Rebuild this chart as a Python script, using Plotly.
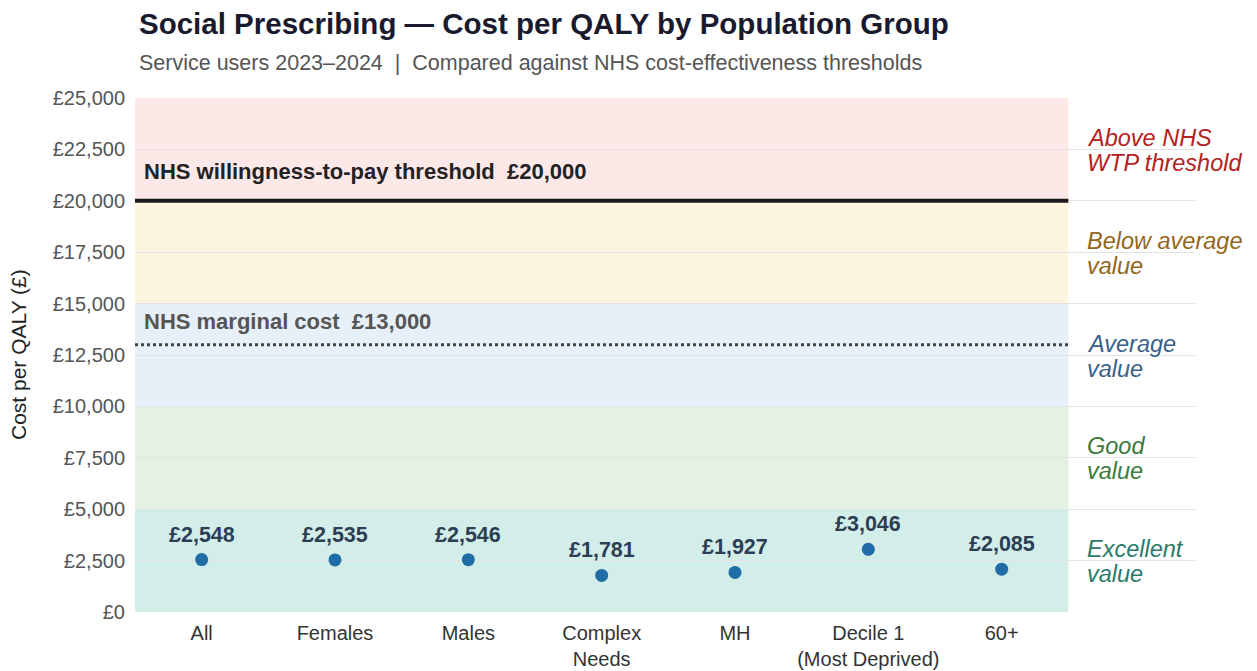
import plotly.graph_objects as go

categories = ["All", "Females", "Males", "Complex<br>Needs", "MH", "Decile 1<br>(Most Deprived)", "60+"]
cost_per_qaly = [2548, 2535, 2546, 1781, 1927, 3046, 2085]

band_edges = [0, 5000, 10000, 15000, 20000, 25000]
band_labels = ["Excellent<br>value", "Good<br>value", "Average<br>value", "Below average<br>value", "Above NHS<br>WTP threshold"]

wtp_threshold = 20000
marginal_cost = 13000
y_ticks = [0, 2500, 5000, 7500, 10000, 12500, 15000, 17500, 20000, 22500, 25000]

# styles
band_fills = ["rgba(192,231,222,0.7)", "rgba(215,236,215,0.7)", "rgba(221,234,245,0.7)",
              "rgba(252,241,211,0.7)", "rgba(252,222,222,0.7)"]
band_label_colors = ["#2a7a6a", "#3c7a3c", "#3a5f8a", "#94661a", "#b22222"]
FONT = "Liberation Sans, Arial, sans-serif"

n = len(categories)
xs = list(range(n))

fig = go.Figure()

fig.add_trace(go.Scatter(
    x=xs, y=cost_per_qaly, mode="markers",
    marker=dict(size=13, color="#1f6ca6"),
    showlegend=False, hoverinfo="skip", cliponaxis=False,
))

for xi, v in zip(xs, cost_per_qaly):
    fig.add_annotation(x=xi, y=v, xref="x", yref="y", text=f"<b>£{v:,}</b>",
                       showarrow=False, yanchor="middle", yshift=25,
                       font=dict(family=FONT, size=21.5, color="#2c3e55"))

for i in range(len(band_fills)):
    fig.add_shape(type="rect", xref="x", yref="y", x0=-0.5, x1=n - 0.5,
                  y0=band_edges[i], y1=band_edges[i + 1],
                  fillcolor=band_fills[i], line=dict(width=0), layer="below")
    lines = band_labels[i].split("<br>")
    mid = (band_edges[i] + band_edges[i + 1]) / 2
    for j, line in enumerate(lines):
        shift = (len(lines) - 1) / 2 * 25 - j * 25 - 1
        fig.add_annotation(x=n - 0.375, y=mid, xref="x", yref="y", text=f"<i>{line}</i>",
                           showarrow=False, xanchor="left", yanchor="middle", yshift=shift,
                           font=dict(family=FONT, size=23.5, color=band_label_colors[i]))

fig.add_shape(type="line", xref="x", yref="y", x0=-0.5, x1=n - 0.5,
              y0=wtp_threshold, y1=wtp_threshold, line=dict(color="#1a1a1a", width=4))
fig.add_shape(type="line", xref="x", yref="y", x0=-0.5, x1=n - 0.5,
              y0=marginal_cost, y1=marginal_cost, line=dict(color="#444444", width=3, dash="dot"))

fig.add_annotation(x=-0.45, y=wtp_threshold, xref="x", yref="y",
                   text=f"<b>NHS willingness-to-pay threshold  £{wtp_threshold:,}</b>",
                   showarrow=False, xanchor="left", yanchor="middle", yshift=29,
                   font=dict(family=FONT, size=22, color="#222222"))
fig.add_annotation(x=-0.45, y=marginal_cost, xref="x", yref="y",
                   text=f"<b>NHS marginal cost  £{marginal_cost:,}</b>",
                   showarrow=False, xanchor="left", yanchor="middle", yshift=23,
                   font=dict(family=FONT, size=22, color="#555555"))

# Title, subtitle, y-axis title (paper coords relative to the plot area)
fig.add_annotation(x=(137 - 135) / 1060, y=(612 - 23) / 514, xref="paper", yref="paper",
                   text="<b>Social Prescribing — Cost per QALY by Population Group</b>",
                   showarrow=False, xanchor="left", yanchor="middle",
                   font=dict(family=FONT, size=29.5, color="#1a1a2e"))
fig.add_annotation(x=(137 - 135) / 1060, y=(612 - 63) / 514, xref="paper", yref="paper",
                   text="Service users 2023–2024  |  Compared against NHS cost-effectiveness thresholds",
                   showarrow=False, xanchor="left", yanchor="middle",
                   font=dict(family=FONT, size=21.5, color="#555555"))
fig.add_annotation(x=(18 - 135) / 1060, y=(612 - 355) / 514, xref="paper", yref="paper",
                   text="Cost per QALY (£)", textangle=-90,
                   showarrow=False, xanchor="center", yanchor="middle",
                   font=dict(family=FONT, size=21, color="#222222"))

# page body has an 8px margin, so the figure is drawn 8px smaller
fig.update_layout(
    width=1249, height=663,
    margin=dict(l=127, r=62, t=90, b=59, autoexpand=False),
    paper_bgcolor="white", plot_bgcolor="white",
    xaxis=dict(
        range=[-0.5, n + 0.45], tickmode="array", tickvals=xs, ticktext=categories,
        showgrid=False, zeroline=False, showline=False, automargin=False,
        ticklabelstandoff=7,
        tickfont=dict(family=FONT, size=20, color="#333333"),
    ),
    yaxis=dict(
        range=[0, 25000], tickmode="array", tickvals=y_ticks,
        ticktext=[f"£{v:,}" for v in y_ticks],
        showgrid=True, gridcolor="#e3e3e3", gridwidth=1, zeroline=False, automargin=False,
        ticklabelstandoff=9,
        tickfont=dict(family=FONT, size=20, color="#555555"),
    ),
)

fig.write_html("out.html")
